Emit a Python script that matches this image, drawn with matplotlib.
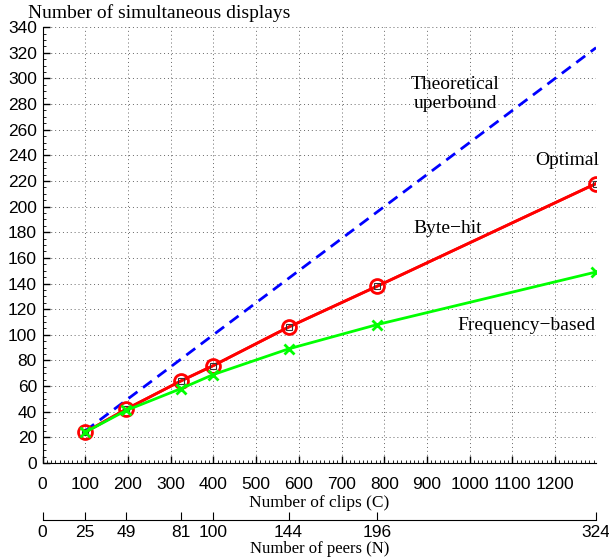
import matplotlib.pyplot as plt
from matplotlib.ticker import MultipleLocator

# number of peers and the matching number of clips (C = 4N)
peers = [25, 49, 81, 100, 144, 196, 324]
clips = [100, 196, 324, 400, 576, 784, 1296]

theoretical = [25, 49, 81, 100, 144, 196, 324]
optimal = [24, 42, 64, 76, 106, 138, 218]
byte_hit = [24, 42, 64, 76, 106, 138, 218]
frequency = [24, 41, 58, 69, 89, 108, 149]

peer_ticks = [0, 25, 49, 81, 100, 144, 196, 324]
clip_ticks = list(range(0, 1300, 100))

serif = ["Liberation Serif", "DejaVu Serif"]
sans = ["Liberation Sans", "DejaVu Sans"]

fig = plt.figure(figsize=(6.09, 5.58), dpi=100)
ax = fig.add_axes([0.0698, 0.1703, 0.909, 0.781])

ax.plot(clips, theoretical, color="#0000ff", lw=2, ls=(0, (4, 2.5)))
ax.plot(clips, optimal, color="red", lw=2, marker="o", ms=10,
        mfc="none", mec="red", mew=2)
ax.plot(clips, byte_hit, color="red", lw=2, marker="s", ms=5,
        mfc="none", mec="#333333", mew=0.8)
ax.plot(clips, frequency, color="#00ff00", lw=2, marker="x", ms=7, mew=2)

ax.set_xlim(0, 1296)
ax.set_ylim(0, 340)
ax.set_xticks(clip_ticks)
ax.set_yticks(range(0, 341, 20))
ax.xaxis.set_minor_locator(MultipleLocator(10))
ax.yaxis.set_minor_locator(MultipleLocator(5))
ax.tick_params(which="major", direction="in", length=5, width=1,
               labelsize=12.5)
ax.tick_params(axis="x", pad=10)
ax.tick_params(axis="y", pad=4)
ax.tick_params(which="minor", direction="in", length=2.5, width=0.6)
for lbl in ax.get_xticklabels() + ax.get_yticklabels():
    lbl.set_family(sans)
ax.spines["top"].set_visible(False)
ax.spines["right"].set_visible(False)
ax.grid(True, which="major", color="#666666", ls=(0, (1, 3)), lw=0.7)
ax.set_xlabel("Number of clips (C)", family=serif, fontsize=12.5, labelpad=2)

fig.text(0.046, 0.977, "Number of simultaneous displays", family=serif,
         fontsize=14, ha="left", va="center")

ax.text(967, 288, "Theoretical\nuperbound", family=serif, fontsize=14,
        ha="center", va="center", linespacing=1.2)
ax.text(1228, 236, "Optimal", family=serif, fontsize=14, ha="center", va="center")
ax.text(948, 183, "Byte\u2212hit", family=serif, fontsize=14, ha="center", va="center")
ax.text(1132, 107, "Frequency\u2212based", family=serif, fontsize=14,
        ha="center", va="center")

# second axis for the number of peers
ax2 = fig.add_axes([0.0698, 0.0675, 0.909, 0.0001])
ax2.set_xlim(0, 324)
ax2.set_ylim(0, 1)
ax2.set_xticks(peer_ticks)
ax2.set_yticks([])
for side in ["top", "left", "right"]:
    ax2.spines[side].set_visible(False)
ax2.tick_params(axis="x", direction="in", length=6, labelsize=12.5, pad=3)
for lbl in ax2.get_xticklabels():
    lbl.set_family(sans)
ax2.set_xlabel("Number of peers (N)", family=serif, fontsize=12, labelpad=1)
ax2.patch.set_visible(False)

fig.savefig("out.png", dpi=100)
